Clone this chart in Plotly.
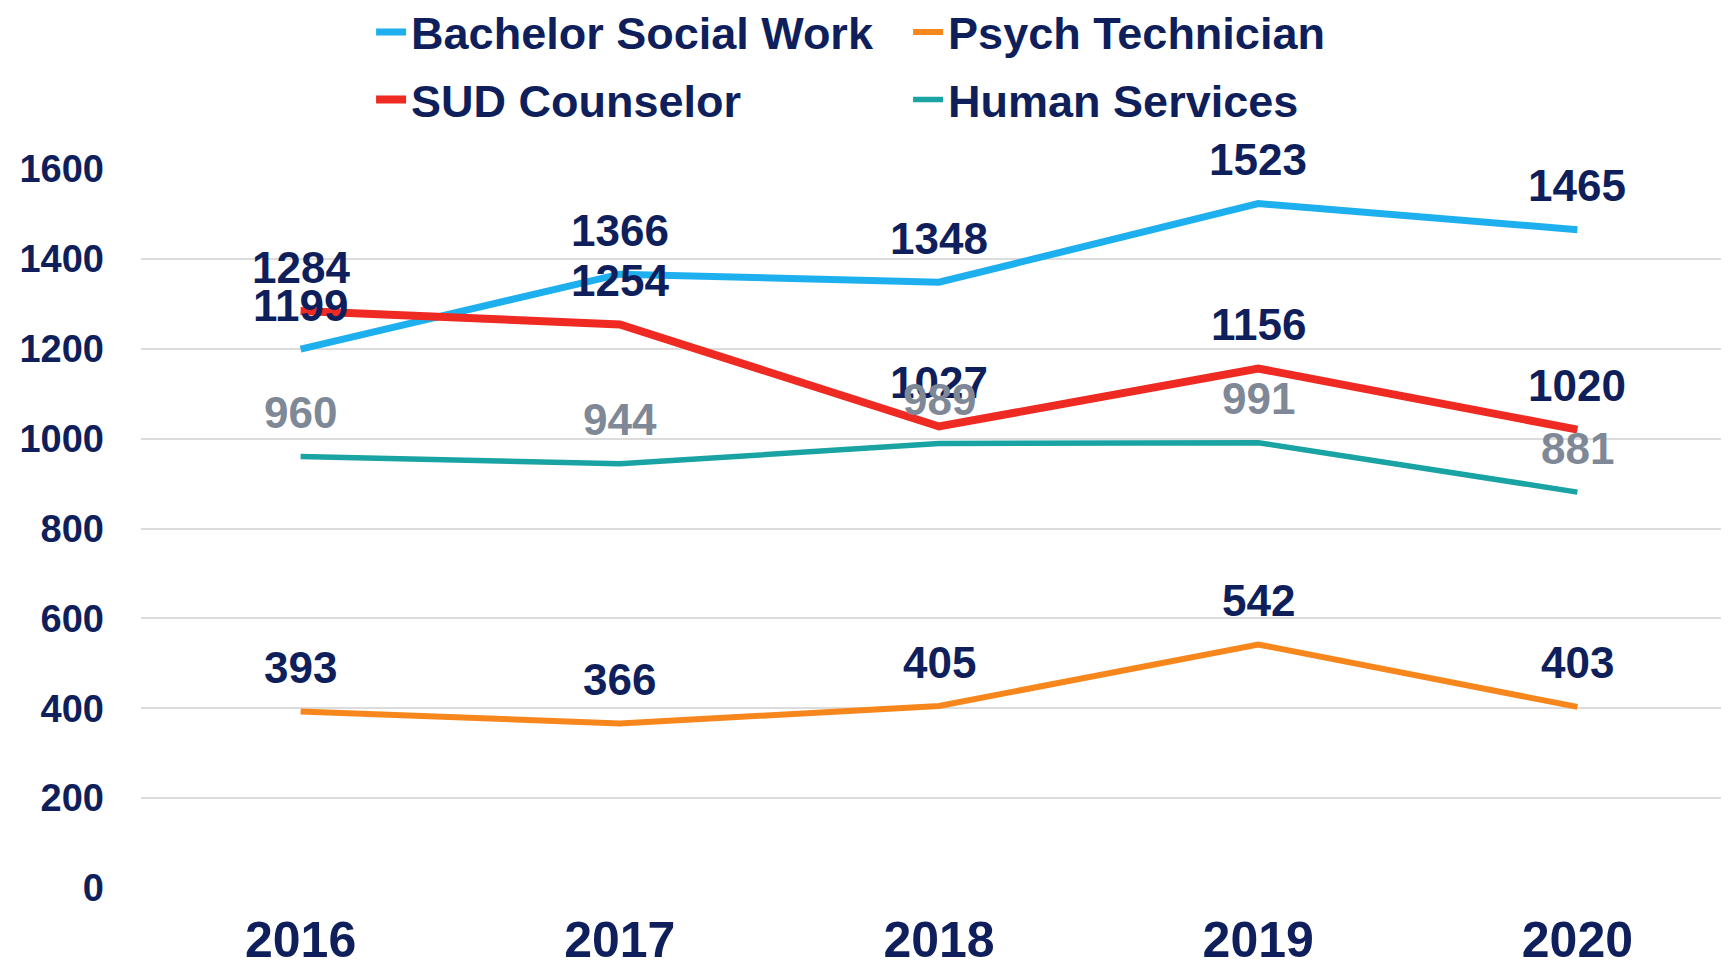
import plotly.graph_objects as go

years = ["2016", "2017", "2018", "2019", "2020"]
bachelor_social_work = [1199, 1366, 1348, 1523, 1465]
psych_technician = [393, 366, 405, 542, 403]
sud_counselor = [1284, 1254, 1027, 1156, 1020]
human_services = [960, 944, 989, 991, 881]
y_ticks = [0, 200, 400, 600, 800, 1000, 1200, 1400, 1600]

NAVY = "#0F1F5C"
GRAY = "#7E8896"
FONT = "Liberation Sans"

series = [
    ("Bachelor Social Work", bachelor_social_work, "#1EB0EE", 7, NAVY, "legend"),
    ("Psych Technician", psych_technician, "#F7871D", 6, NAVY, "legend"),
    ("SUD Counselor", sud_counselor, "#EE2A22", 8, NAVY, "legend2"),
    ("Human Services", human_services, "#1AA3A3", 5.5, GRAY, "legend2"),
]

fig = go.Figure()
annotations = []
for name, vals, color, width, lblcolor, leg in series:
    fig.add_trace(go.Scatter(
        x=years, y=vals, mode="lines", name=name,
        line=dict(color=color, width=width), legend=leg,
    ))
    for i, v in enumerate(vals):
        annotations.append(dict(
            x=i, y=v, xref="x", yref="y", text=str(v), showarrow=False,
            yshift=44,
            font=dict(family=FONT, size=44, color=lblcolor, weight="bold"),
        ))

legend_common = dict(
    orientation="h", xanchor="left", yanchor="middle",
    xref="container", yref="container",
    font=dict(family=FONT, size=45, color=NAVY, weight="bold"),
    entrywidth=492, entrywidthmode="pixels",
    bgcolor="rgba(0,0,0,0)", itemwidth=30, tracegroupgap=0,
)

fig.update_layout(
    width=1729, height=966,
    margin=dict(l=133, r=0, t=161, b=86, autoexpand=False),
    paper_bgcolor="white", plot_bgcolor="white",
    showlegend=True,
    legend=dict(x=0.21, y=0.975, **legend_common),
    legend2=dict(x=0.21, y=0.905, **legend_common),
    annotations=annotations,
    xaxis=dict(
        type="category", range=[-0.5, 4.5], showgrid=False, showline=False,
        zeroline=False, ticks="",
        tickfont=dict(family=FONT, size=50, color=NAVY, weight="bold"),
        ticklabelstandoff=18,
    ),
    yaxis=dict(
        range=[0, 1600], tickvals=y_ticks, showgrid=True,
        gridcolor="#DCDCDC", gridwidth=1.5, zeroline=False, showline=False,
        tickfont=dict(family=FONT, size=38, color=NAVY, weight="bold"),
        ticklabelstandoff=36,
    ),
)

fig.write_html("out.html")
